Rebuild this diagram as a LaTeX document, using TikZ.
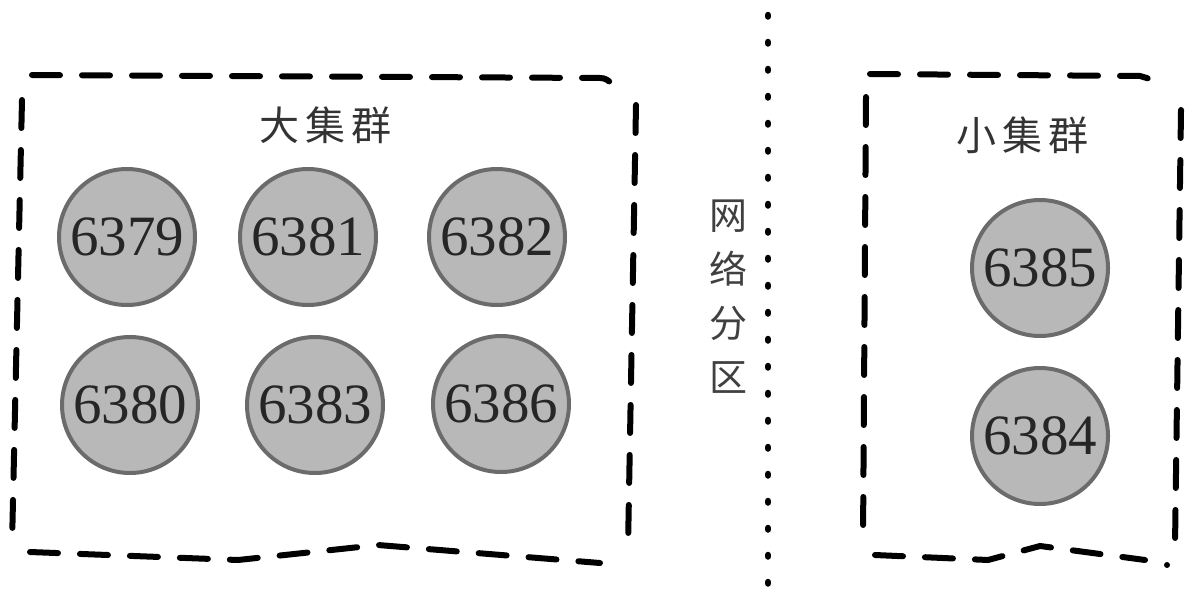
\documentclass[tikz,border=0pt]{standalone}
\usepackage{fontspec}
\setmainfont{Liberation Serif}
\newfontfamily\cjk{Noto Sans CJK SC}
\begin{document}
\begin{tikzpicture}[x=1pt,y=-1pt,
  server/.style={circle,draw=black!58,fill=black!28,line width=4pt,minimum size=136pt,inner sep=0pt,
    text=black!85,font=\fontsize{57}{60}\selectfont},
  border/.style={draw=black,line width=6pt,line cap=round,dash pattern=on 28pt off 22pt},
  part/.style={draw=black,line width=6.5pt,line cap=round,dash pattern=on 1.5pt off 25.5pt},
  title/.style={font=\cjk\fontsize{40}{44}\selectfont\color{black!80}}]
\useasboundingbox (0,0) rectangle (1190,613);
% left cluster frame
\draw[border] (32,75) -- (600,78) to[out=0,out=0] (612,84);
\draw[border] (22,100) -- (12,545);
\draw[border] (636,105) -- (628,548);
\draw[border] (30,552) -- (238,560) -- (378,545) -- (600,563);
% right cluster frame
\draw[border] (870,74) -- (1140,76) -- (1160,82);
\draw[border] (866,97) -- (863,540);
\draw[border] (1181,110) -- (1175,545);
\draw[border] (875,555) -- (988,560) -- (1040,546) -- (1145,560);
\fill (1167,565) circle (3pt);
% partition line
\draw[part] (768,15) -- (768,605);
% titles
\node[title] (bigt) at (325,125) {大\hspace{6pt}集\hspace{6pt}群};
\node[title] (smallt) at (1022,135) {小\hspace{6pt}集\hspace{6pt}群};
\node[title,align=center,font=\cjk\fontsize{38}{54}\selectfont\color{black!75}] (net) at (728,297) {网\\络\\分\\区};
% servers
\node[server] (s6379) at (127,237) {6379};
\node[server] (s6381) at (308,237) {6381};
\node[server] (s6382) at (497,237) {6382};
\node[server] (s6380) at (130,405) {6380};
\node[server] (s6383) at (315,405) {6383};
\node[server] (s6386) at (501,404) {6386};
\node[server] (s6385) at (1040,268) {6385};
\node[server] (s6384) at (1040,436) {6384};
\end{tikzpicture}
\end{document}
